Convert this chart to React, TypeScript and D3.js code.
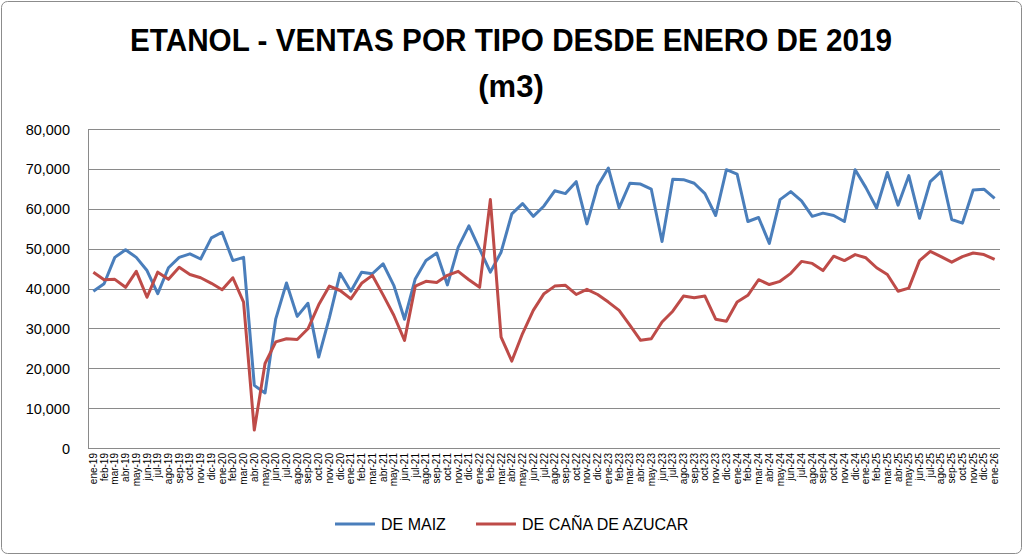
import { useEffect, useRef } from 'react';
import * as d3 from 'd3';

const months = ['ene', 'feb', 'mar', 'abr', 'may', 'jun', 'jul', 'ago', 'sep', 'oct', 'nov', 'dic'];
const years = ['19', '20', '21', '22', '23', '24', '25'];
const categories = [...years.flatMap((y) => months.map((m) => `${m}-${y}`)), 'ene-26'];

const maiz = [
  39300, 41200, 47800, 49700, 47800, 44500, 38700, 45200, 47800, 48700, 47400, 52700,
  54100, 47000, 47800, 15700, 13800, 32400, 41400, 33000, 36300, 22800, 32700, 43800,
  39300, 44100, 43700, 46200, 40800, 32300, 42400, 47000, 48900, 40900, 50300, 55700,
  49900, 44100, 49100, 58700, 61300, 58100, 60700, 64500, 63800, 66800, 56200, 65700,
  70200, 60200, 66400, 66200, 64900, 51800, 67400, 67300, 66400, 63800, 58300, 69800,
  68700, 56800, 57800, 51300, 62300, 64300, 62000, 58100, 58900, 58300, 56800, 69800,
  65300, 60200, 69100, 60900, 68300, 57600, 66800, 69300, 57300, 56400, 64700, 64900,
  62600,
];

const cana = [
  44100, 42200, 42300, 40300, 44300, 37800, 44100, 42300, 45300, 43500, 42700, 41300,
  39700, 42700, 36600, 4500, 21200, 26600, 27400, 27200, 29900, 35900, 40600, 39500,
  37400, 41300, 43300, 38400, 33300, 27000, 40600, 41800, 41500, 43300, 44300, 42200,
  40300, 62300, 27800, 21800, 28700, 34500, 38700, 40600, 40800, 38500, 39800, 38500,
  36600, 34500, 30800, 27000, 27400, 31600, 34300, 38100, 37700, 38100, 32300, 31800,
  36600, 38300, 42200, 41000, 41800, 43800, 46800, 46300, 44500, 48100, 47000, 48500,
  47700, 45200, 43500, 39300, 40100, 47000, 49300, 48000, 46600, 48000, 48900, 48500,
  47300,
];

const yTicks = [0, 10000, 20000, 30000, 40000, 50000, 60000, 70000, 80000];

const seriesNames = ['DE MAIZ', 'DE CAÑA DE AZUCAR'];
const seriesColors = ['#4A7EBB', '#BE4B48'];

const App = () => {
  const ref = useRef<SVGSVGElement>(null);

  useEffect(() => {
    const width = 1023;
    const height = 555;
    const left = 88;
    const right = 1000;
    const top = 129;
    const bottom = 448;
    const font = 'Liberation Sans, Arial, sans-serif';

    const svg = d3.select(ref.current);
    svg.selectAll('*').remove();

    svg.append('rect')
      .attr('x', 1.5).attr('y', 1.5)
      .attr('width', width - 3).attr('height', height - 3)
      .attr('rx', 6)
      .attr('fill', '#fff')
      .attr('stroke', '#8c8c8c');

    const x = d3.scalePoint<string>()
      .domain(categories)
      .range([left, right])
      .padding(0.5);

    const y = d3.scaleLinear()
      .domain([0, 80000])
      .range([bottom, top]);

    // title
    const title = svg.append('g')
      .attr('font-family', font)
      .attr('font-weight', 'bold')
      .attr('font-size', 31)
      .attr('text-anchor', 'middle')
      .attr('fill', '#000');
    title.append('text')
      .attr('x', 511).attr('y', 51)
      .attr('textLength', 762)
      .attr('lengthAdjust', 'spacingAndGlyphs')
      .text('ETANOL - VENTAS POR TIPO DESDE ENERO DE 2019');
    title.append('text')
      .attr('x', 511).attr('y', 97)
      .text('(m3)');

    // grid
    svg.append('g')
      .selectAll('line')
      .data(yTicks)
      .join('line')
      .attr('x1', left).attr('x2', right)
      .attr('y1', (d) => Math.round(y(d)) + 0.5)
      .attr('y2', (d) => Math.round(y(d)) + 0.5)
      .attr('stroke', '#8a8a8a')
      .attr('stroke-width', 1);

    svg.append('line')
      .attr('x1', left + 0.5).attr('x2', left + 0.5)
      .attr('y1', top).attr('y2', bottom)
      .attr('stroke', '#8a8a8a');

    // y labels
    svg.append('g')
      .selectAll('text')
      .data(yTicks)
      .join('text')
      .attr('x', 70)
      .attr('y', (d) => y(d) + 5.5)
      .attr('text-anchor', 'end')
      .attr('font-family', font)
      .attr('font-size', 14.5)
      .attr('fill', '#000')
      .text((d) => d3.format(',')(d));

    // x labels
    svg.append('g')
      .selectAll('text')
      .data(categories)
      .join('text')
      .attr('transform', (d) => `translate(${x(d)! + 3.5},453) rotate(-90)`)
      .attr('text-anchor', 'end')
      .attr('font-family', font)
      .attr('font-size', 10)
      .attr('fill', '#000')
      .text((d) => d);

    // lines
    const line = d3.line<number>()
      .x((_, i) => x(categories[i])!)
      .y((d) => y(d));

    [maiz, cana].forEach((s, i) => {
      svg.append('path')
        .attr('d', line(s))
        .attr('fill', 'none')
        .attr('stroke', seriesColors[i])
        .attr('stroke-width', 3)
        .attr('stroke-linejoin', 'round');
    });

    // legend
    const legendX = [335, 476];
    const lg = svg.append('g');
    seriesNames.forEach((name, i) => {
      lg.append('line')
        .attr('x1', legendX[i]).attr('x2', legendX[i] + 40)
        .attr('y1', 524).attr('y2', 524)
        .attr('stroke', seriesColors[i])
        .attr('stroke-width', 3);
      lg.append('text')
        .attr('x', legendX[i] + 46)
        .attr('y', 530)
        .attr('font-family', font)
        .attr('font-size', 16)
        .attr('fill', '#000')
        .text(name);
    });
  }, []);

  return (
    <svg
      ref={ref}
      width={1023}
      height={555}
      style={{ position: 'absolute', left: 0, top: 0, background: '#fff' }}
    />
  );
};

export default App;
